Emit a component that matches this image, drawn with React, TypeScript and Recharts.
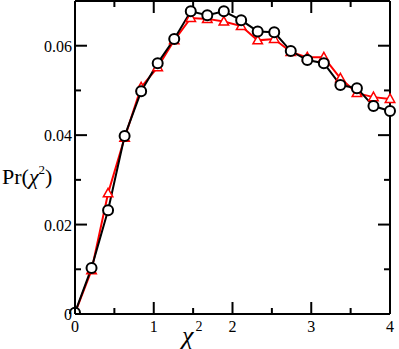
import React from "react";
import { LineChart, Line, XAxis, YAxis } from "recharts";

const chi2 = [0, 0.21, 0.42, 0.63, 0.84, 1.05, 1.26, 1.47, 1.68, 1.89, 2.11, 2.32, 2.53, 2.74, 2.95, 3.16, 3.37, 3.58, 3.79, 4.0];
const prRed = [0.0002, 0.0098, 0.027, 0.0394, 0.0507, 0.0552, 0.0612, 0.0662, 0.066, 0.0654, 0.0644, 0.0612, 0.0615, 0.0586, 0.0574, 0.0574, 0.0527, 0.0494, 0.0485, 0.0481];
const prBlack = [0.0003, 0.0103, 0.0232, 0.0398, 0.0498, 0.0561, 0.0615, 0.0677, 0.0668, 0.0677, 0.0657, 0.0632, 0.063, 0.0588, 0.0568, 0.0561, 0.0512, 0.0505, 0.0465, 0.0454];
const xTicks = [0, 0.5, 1, 1.5, 2, 2.5, 3, 3.5, 4];
const yTicks = [0, 0.01, 0.02, 0.03, 0.04, 0.05, 0.06];

const data = chi2.map((x, i) => ({ x, red: prRed[i], black: prBlack[i] }));

const FONT = "'Liberation Serif', 'Times New Roman', serif";
const MAJOR = 12;
const MINOR = 6;

const isMajorX = (v: number) => Number.isInteger(v);
const isMajorY = (v: number) => Math.round(v * 100) % 2 === 0;

// ticks point into the plot, labels only on bottom/left
const BottomTick = (p: any) => {
  const v = p.payload.value;
  const len = isMajorX(v) ? MAJOR : MINOR;
  return (
    <g>
      <line x1={p.x} y1={p.y} x2={p.x} y2={p.y - len} stroke="#000" strokeWidth={2} />
      {isMajorX(v) && (
        <text x={p.x} y={p.y + 18} textAnchor="middle" fontSize={16} fontFamily={FONT} fill="#000">
          {v}
        </text>
      )}
    </g>
  );
};

const TopTick = (p: any) => {
  const v = p.payload.value;
  const len = isMajorX(v) ? MAJOR : MINOR;
  return <line x1={p.x} y1={p.y} x2={p.x} y2={p.y + len} stroke="#000" strokeWidth={2} />;
};

const LeftTick = (p: any) => {
  const v = p.payload.value;
  const len = isMajorY(v) ? MAJOR : MINOR;
  return (
    <g>
      <line x1={p.x} y1={p.y} x2={p.x + len} y2={p.y} stroke="#000" strokeWidth={2} />
      {isMajorY(v) && (
        <text x={p.x - 3} y={p.y + 6} textAnchor="end" fontSize={16} fontFamily={FONT} fill="#000">
          {v === 0 ? "0" : v.toFixed(2)}
        </text>
      )}
    </g>
  );
};

const RightTick = (p: any) => {
  const v = p.payload.value;
  const len = isMajorY(v) ? MAJOR : MINOR;
  return <line x1={p.x} y1={p.y} x2={p.x - len} y2={p.y} stroke="#000" strokeWidth={2} />;
};

const Triangle = (p: any) => {
  const { cx, cy, index } = p;
  const r = 5;
  return (
    <path
      key={`tri-${index}`}
      d={`M${cx},${cy - r} L${cx + r * 0.95},${cy + r * 0.7} L${cx - r * 0.95},${cy + r * 0.7} Z`}
      fill="#fff"
      stroke="#ff0000"
      strokeWidth={1.5}
    />
  );
};

const XLabel = (props: any) => {
  const vb = props.viewBox;
  return (
    <text x={vb.x + vb.width * 0.34} y={vb.y + 30} fontSize={26} fontFamily={FONT} fill="#000">
      <tspan fontStyle="italic">χ</tspan>
      <tspan fontSize={14} dx={2} dy={-13}>2</tspan>
    </text>
  );
};

const YLabel = (props: any) => {
  const vb = props.viewBox;
  return (
    <text x={2} y={vb.y + vb.height * 0.585} fontSize={22} fontFamily={FONT} fill="#000">
      Pr(<tspan fontStyle="italic">χ</tspan>
      <tspan fontSize={13} dy={-10}>2</tspan>
      <tspan dy={10}>)</tspan>
    </text>
  );
};

export default function App() {
  return (
    <div style={{ position: "absolute", left: 0, top: 0, background: "#fff" }}>
      <LineChart width={399} height={349} data={data} margin={{ top: 0, right: 0, bottom: 0, left: 0 }}>
        <XAxis
          dataKey="x"
          type="number"
          domain={[0, 4]}
          ticks={xTicks}
          height={35}
          tickSize={0}
          tickMargin={0}
          tick={BottomTick}
          axisLine={{ stroke: "#000", strokeWidth: 2 }}
          label={<XLabel />}
          interval={0}
        />
        <XAxis
          xAxisId="top"
          orientation="top"
          dataKey="x"
          type="number"
          domain={[0, 4]}
          ticks={xTicks}
          height={1}
          tickSize={0}
          tickMargin={0}
          tick={TopTick}
          axisLine={{ stroke: "#000", strokeWidth: 2 }}
          interval={0}
        />
        <YAxis
          type="number"
          domain={[0, 0.07]}
          ticks={yTicks}
          width={75}
          tickSize={0}
          tickMargin={0}
          tick={LeftTick}
          axisLine={{ stroke: "#000", strokeWidth: 2 }}
          label={<YLabel />}
          interval={0}
          allowDataOverflow
        />
        <YAxis
          yAxisId="right"
          orientation="right"
          type="number"
          domain={[0, 0.07]}
          ticks={yTicks}
          width={9}
          tickSize={0}
          tickMargin={0}
          tick={RightTick}
          axisLine={{ stroke: "#000", strokeWidth: 2 }}
          interval={0}
          allowDataOverflow
        />
        <Line
          dataKey="red"
          stroke="#ff0000"
          strokeWidth={2}
          dot={Triangle}
          isAnimationActive={false}
        />
        <Line
          dataKey="black"
          stroke="#000"
          strokeWidth={2}
          dot={{ r: 5, stroke: "#000", strokeWidth: 2, fill: "#fff" }}
          isAnimationActive={false}
        />
      </LineChart>
    </div>
  );
}
